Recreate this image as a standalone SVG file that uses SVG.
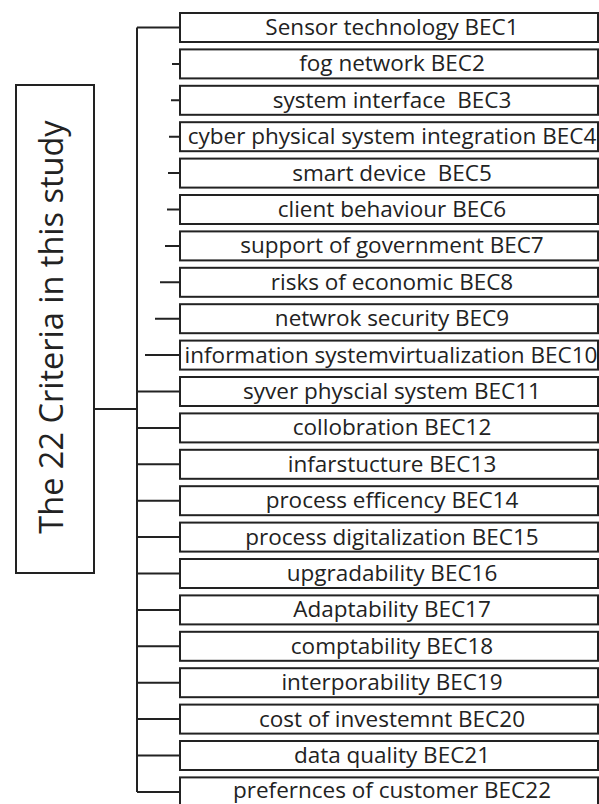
<svg xmlns="http://www.w3.org/2000/svg" width="599" height="804" viewBox="0 0 599 804">
<style>
.box{fill:#fff;stroke:#222;stroke-width:2}
.lbl{font-family:"Open Sans","Noto Sans","DejaVu Sans",sans-serif;font-size:22.5px;fill:#222;text-anchor:middle;white-space:pre}
.title{font-family:"Open Sans","Noto Sans","DejaVu Sans",sans-serif;font-size:32.5px;fill:#222;text-anchor:middle}
.con{stroke:#222;stroke-width:2;fill:none}
</style>
<rect width="599" height="804" fill="#fff"/>
<g id="connectors" class="con">
<path d="M137,27.5 V792 M137,27.5 H180 M94,409 H137"/>
<path d="M172,63.9 H180 M171,100.3 H180 M169,136.7 H180 M168,173.1 H180 M167,209.5 H180 M165,245.9 H180 M160,282.3 H180 M155,318.7 H180 M145,355.1 H180"/>
<path d="M137,391.5 H180 M137,427.9 H180 M137,464.3 H180 M137,500.7 H180 M137,537.1 H180 M137,573.5 H180 M137,609.9 H180 M137,646.3 H180 M137,682.7 H180 M137,719.1 H180 M137,755.5 H180 M137,791.9 H180"/>
</g>
<g id="root">
<rect class="box" x="16" y="85" width="78" height="488"/>
<text class="title" transform="translate(63,327) rotate(-90)">The 22 Criteria in this study</text>
</g>
<g id="BEC1"><rect class="box" x="180" y="13" width="418" height="29"/><text class="lbl" x="392" y="35">Sensor technology BEC1</text></g>
<g id="BEC2"><rect class="box" x="180" y="49.4" width="418" height="29"/><text class="lbl" x="392" y="71.4">fog network BEC2</text></g>
<g id="BEC3"><rect class="box" x="180" y="85.8" width="418" height="29"/><text class="lbl" x="392" y="107.8">system interface  BEC3</text></g>
<g id="BEC4"><rect class="box" x="180" y="122.2" width="418" height="29"/><text class="lbl" x="392" y="144.2">cyber physical system integration BEC4</text></g>
<g id="BEC5"><rect class="box" x="180" y="158.6" width="418" height="29"/><text class="lbl" x="392" y="180.6">smart device  BEC5</text></g>
<g id="BEC6"><rect class="box" x="180" y="195" width="418" height="29"/><text class="lbl" x="392" y="217">client behaviour BEC6</text></g>
<g id="BEC7"><rect class="box" x="180" y="231.4" width="418" height="29"/><text class="lbl" x="392" y="253.4">support of government BEC7</text></g>
<g id="BEC8"><rect class="box" x="180" y="267.8" width="418" height="29"/><text class="lbl" x="392" y="289.8">risks of economic BEC8</text></g>
<g id="BEC9"><rect class="box" x="180" y="304.2" width="418" height="29"/><text class="lbl" x="392" y="326.2">netwrok security BEC9</text></g>
<g id="BEC10"><rect class="box" x="180" y="340.6" width="418" height="29"/><text class="lbl" x="391" y="362.6">information systemvirtualization BEC10</text></g>
<g id="BEC11"><rect class="box" x="180" y="377" width="418" height="29"/><text class="lbl" x="392" y="399">syver physcial system BEC11</text></g>
<g id="BEC12"><rect class="box" x="180" y="413.4" width="418" height="29"/><text class="lbl" x="392" y="435.4">collobration BEC12</text></g>
<g id="BEC13"><rect class="box" x="180" y="449.8" width="418" height="29"/><text class="lbl" x="392" y="471.8">infarstucture BEC13</text></g>
<g id="BEC14"><rect class="box" x="180" y="486.2" width="418" height="29"/><text class="lbl" x="392" y="508.2">process efficency BEC14</text></g>
<g id="BEC15"><rect class="box" x="180" y="522.6" width="418" height="29"/><text class="lbl" x="392" y="544.6">process digitalization BEC15</text></g>
<g id="BEC16"><rect class="box" x="180" y="559" width="418" height="29"/><text class="lbl" x="392" y="581">upgradability BEC16</text></g>
<g id="BEC17"><rect class="box" x="180" y="595.4" width="418" height="29"/><text class="lbl" x="392" y="617.4">Adaptability BEC17</text></g>
<g id="BEC18"><rect class="box" x="180" y="631.8" width="418" height="29"/><text class="lbl" x="392" y="653.8">comptability BEC18</text></g>
<g id="BEC19"><rect class="box" x="180" y="668.2" width="418" height="29"/><text class="lbl" x="392" y="690.2">interporability BEC19</text></g>
<g id="BEC20"><rect class="box" x="180" y="704.6" width="418" height="29"/><text class="lbl" x="392" y="726.6">cost of investemnt BEC20</text></g>
<g id="BEC21"><rect class="box" x="180" y="741" width="418" height="29"/><text class="lbl" x="392" y="763">data quality BEC21</text></g>
<g id="BEC22"><rect class="box" x="180" y="777.4" width="418" height="29"/><text class="lbl" x="392" y="797.5">prefernces of customer BEC22</text></g>
</svg>
